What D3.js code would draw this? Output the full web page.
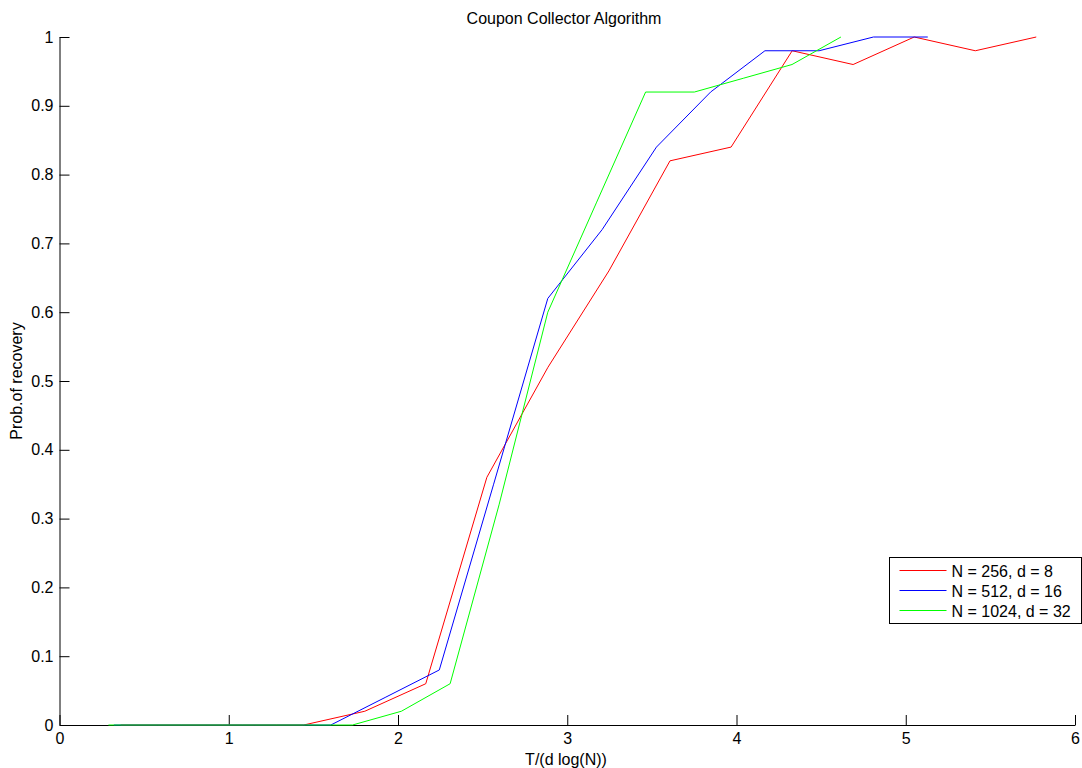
<!DOCTYPE html>
<html>
<head>
<meta charset="utf-8">
<script src="https://cdn.jsdelivr.net/npm/d3@7"></script>
<style>
  body { margin: 0; background: #fff; }
  svg { display: block; font-family: "Liberation Sans", Arial, Helvetica, sans-serif; }
</style>
</head>
<body>
<svg id="chart" width="1082" height="768"></svg>
<script>
// Normalised time T/(d log N) and recovery probability for each configuration
const xRed   = [0.361,0.721,1.082,1.443,1.804,2.164,2.525,2.886,3.246,3.607,3.968,4.329,4.689,5.050,5.411,5.771];
const yRed   = [0,0,0,0,0.02,0.06,0.36,0.52,0.66,0.82,0.84,0.98,0.96,1.00,0.98,1.00];
const xBlue  = [0.321,0.641,0.962,1.282,1.603,1.924,2.244,2.565,2.885,3.206,3.527,3.847,4.168,4.488,4.809,5.130];
const yBlue  = [0,0,0,0,0,0.04,0.08,0.35,0.62,0.72,0.84,0.92,0.98,0.98,1.00,1.00];
const xGreen = [0.289,0.577,0.866,1.154,1.443,1.731,2.020,2.308,2.597,2.885,3.174,3.463,3.751,4.040,4.328,4.617];
const yGreen = [0,0,0,0,0,0,0.02,0.06,0.32,0.60,0.76,0.92,0.92,0.94,0.96,1.00];

const seriesNames  = ["N = 256, d = 8", "N = 512, d = 16", "N = 1024, d = 32"];
const seriesColors = ["#ff0000", "#0000ff", "#00ff00"];
const xTicks = [0, 1, 2, 3, 4, 5, 6];
const yTicks = [0, 0.1, 0.2, 0.3, 0.4, 0.5, 0.6, 0.7, 0.8, 0.9, 1];

const series = [
  { name: seriesNames[0], color: seriesColors[0], xs: xRed,   ys: yRed },
  { name: seriesNames[1], color: seriesColors[1], xs: xBlue,  ys: yBlue },
  { name: seriesNames[2], color: seriesColors[2], xs: xGreen, ys: yGreen }
];

const FONT = "16px";
const svg = d3.select("#chart");
const plotLeft = 59.5, plotRight = 1075, plotTop = 37, plotBottom = 725;

const x = d3.scaleLinear().domain([0, 6]).range([plotLeft, plotRight]);
const y = d3.scaleLinear().domain([0, 1]).range([plotBottom, plotTop]);

// Axes with inward ticks
const xAxis = d3.axisBottom(x).tickValues(xTicks).tickFormat(d3.format("d"))
  .tickSizeInner(-10).tickSizeOuter(0).tickPadding(8);
const yAxis = d3.axisLeft(y).tickValues(yTicks).tickFormat(d => d === 0 || d === 1 ? String(d) : d3.format(".1f")(d))
  .tickSizeInner(-10).tickSizeOuter(0).tickPadding(6);

const gx = svg.append("g").attr("transform", `translate(0,${plotBottom})`).call(xAxis);
const gy = svg.append("g").attr("transform", `translate(${plotLeft},0)`).call(yAxis);
[gx, gy].forEach(g => {
  g.select(".domain").attr("stroke", "#000").attr("stroke-width", 1);
  g.selectAll(".tick line").attr("stroke", "#000").attr("stroke-width", 1);
  g.selectAll(".tick text").attr("fill", "#000").style("font-size", FONT)
    .style("font-family", "'Liberation Sans', Arial, sans-serif");
});

// Data lines
const line = d3.line().x(d => x(d[0])).y(d => y(d[1]));
series.forEach(s => {
  svg.append("path")
    .datum(s.xs.map((v, i) => [v, s.ys[i]]))
    .attr("fill", "none")
    .attr("stroke", s.color)
    .attr("stroke-width", 1)
    .attr("d", line);
});

// Title and axis labels
svg.append("text").attr("x", 564).attr("y", 24).attr("text-anchor", "middle")
  .style("font-size", FONT).text("Coupon Collector Algorithm");
svg.append("text").attr("x", 566).attr("y", 765).attr("text-anchor", "middle")
  .style("font-size", FONT).text("T/(d log(N))");
svg.append("text").attr("transform", "translate(22,381) rotate(-90)").attr("text-anchor", "middle")
  .style("font-size", FONT).text("Prob.of recovery");

// Legend
const lg = svg.append("g").attr("transform", "translate(889.5,557.5)");
lg.append("rect").attr("width", 192).attr("height", 66)
  .attr("fill", "#fff").attr("stroke", "#000").attr("stroke-width", 1);
series.forEach((s, i) => {
  const yy = 13 + i * 20;
  lg.append("line").attr("x1", 10).attr("x2", 57).attr("y1", yy).attr("y2", yy)
    .attr("stroke", s.color).attr("stroke-width", 1);
  lg.append("text").attr("x", 62).attr("y", yy + 6).style("font-size", FONT).text(s.name);
});
</script>
</body>
</html>
